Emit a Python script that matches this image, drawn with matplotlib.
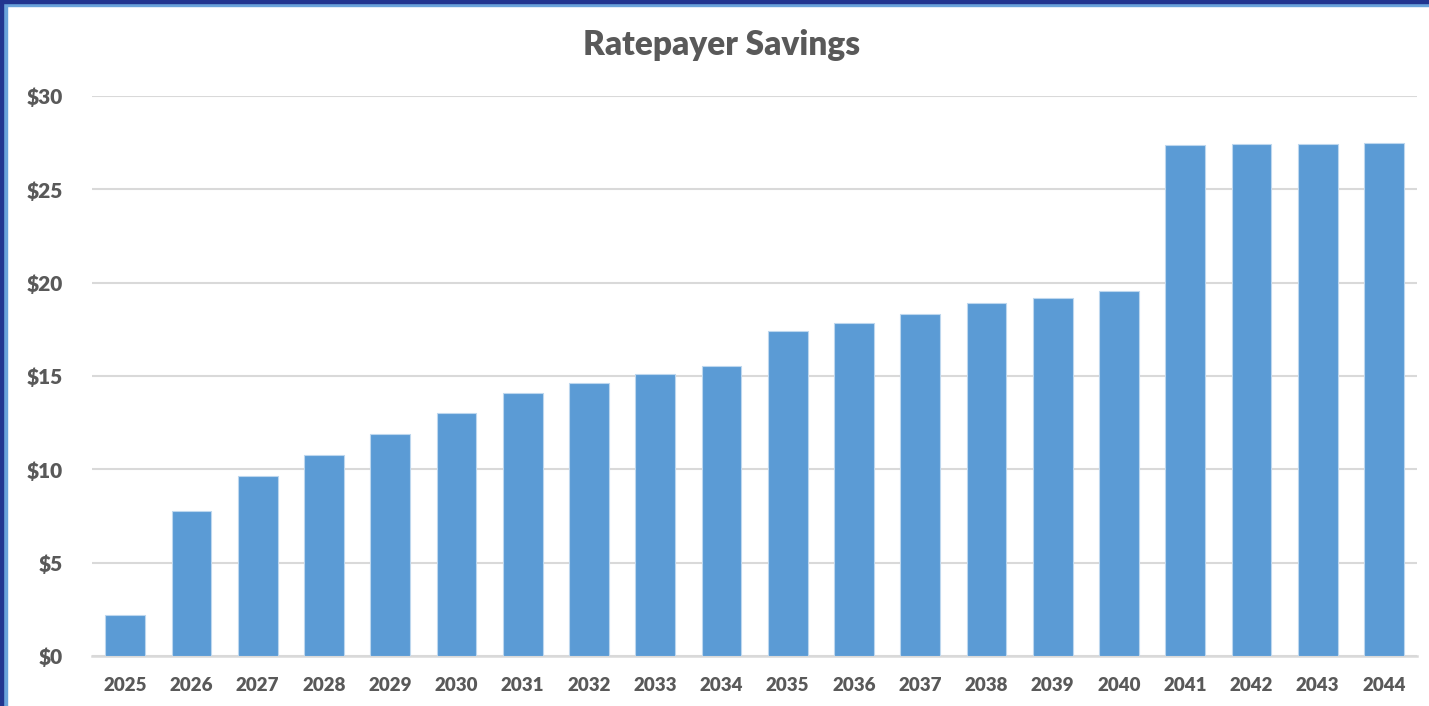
import matplotlib.pyplot as plt
from matplotlib.patches import Rectangle

years = [str(y) for y in range(2025, 2045)]
savings = [2.2, 7.75, 9.66, 10.75, 11.89, 13.02, 14.1, 14.62, 15.09, 15.55,
           17.41, 17.82, 18.3, 18.91, 19.16, 19.53, 27.35, 27.41, 27.45, 27.5]
yticks = [0, 5, 10, 15, 20, 25, 30]
ylabels = ["$0", "$5", "$10", "$15", "$20", "$25", "$30"]

W, H = 1429, 706
fig = plt.figure(figsize=(W / 100, H / 100), dpi=100)
ax = fig.add_axes([92 / W, 1 - 656 / H, (1417 - 92) / W, (656 - 96) / H])

ax.bar(range(len(years)), savings, width=0.6, color="#5B9BD5",
       edgecolor="#BDD7EE", linewidth=0.8, zorder=3)

ax.set_xlim(-0.5, len(years) - 0.5)
ax.set_ylim(0, 30)
ax.set_yticks(yticks)
ax.set_yticklabels(ylabels)
ax.set_xticks(range(len(years)))
ax.set_xticklabels(years)
ax.yaxis.grid(True, color="#D9D9D9", linewidth=1.5, zorder=0)
ax.set_axisbelow(True)

for s in ["top", "right", "left"]:
    ax.spines[s].set_visible(False)
ax.spines["bottom"].set_color("#D9D9D9")
ax.spines["bottom"].set_linewidth(1.8)
ax.tick_params(axis="both", length=0, labelcolor="#595959")
ax.tick_params(axis="y", pad=21, labelsize=15)
ax.tick_params(axis="x", pad=15, labelsize=13.5)
for lab in ax.get_xticklabels() + ax.get_yticklabels():
    lab.set_fontfamily("Lato")
    lab.set_fontweight("heavy")

fig.text(0.505, 1 - 45 / H, "Ratepayer Savings", ha="center", va="center",
         fontsize=24, fontweight="heavy", color="#595959", family="Lato")

# window-like frame on top and left
fig.patches.append(Rectangle((0, 1 - 3 / H), 1, 3 / H, transform=fig.transFigure,
                             color="#22358F", zorder=10))
fig.patches.append(Rectangle((0, 1 - 6 / H), 1, 3 / H, transform=fig.transFigure,
                             color="#6AA3DA", zorder=9))
fig.patches.append(Rectangle((0, 0), 3 / W, 1, transform=fig.transFigure,
                             color="#22358F", zorder=10))
fig.patches.append(Rectangle((3 / W, 0), 4 / W, 1 - 3 / H, transform=fig.transFigure,
                             color="#6AA3DA", zorder=9))

plt.savefig("out.png", dpi=100)
